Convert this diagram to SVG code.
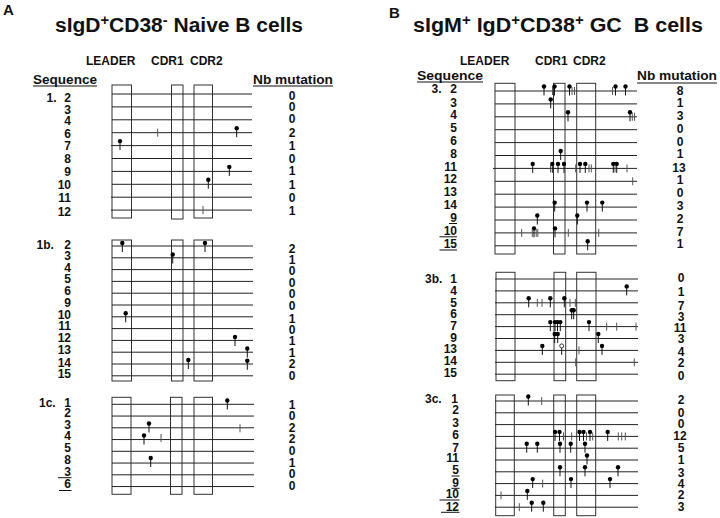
<svg xmlns="http://www.w3.org/2000/svg" xmlns:xlink="http://www.w3.org/1999/xlink" width="720" height="518" viewBox="0 0 720 518">
<style>
text{font-family:"Liberation Sans",Arial,sans-serif;font-weight:bold;fill:#111}
.ttl{font-size:20px}
.pl{font-size:15px}
.hd{font-size:12px}
.sq{font-size:13px}
.lb{font-size:12px;text-anchor:end}
.nb{font-size:12px;text-anchor:middle}
.box{fill:none;stroke:#333;stroke-width:1}
.row{stroke:#222;stroke-width:1}
.ul{stroke:#111;stroke-width:1}
.tk{stroke:#555;stroke-width:1}
</style>
<defs>
<g id="p"><line x1="0" y1="-4.5" x2="0" y2="4.5" stroke="#111" stroke-width="1"/><circle cx="0" cy="-4.5" r="2.2" fill="#000"/></g>
<g id="o"><line x1="0" y1="-2.5" x2="0" y2="4.5" stroke="#111" stroke-width="1"/><circle cx="0" cy="-4.5" r="2" fill="#fff" stroke="#111" stroke-width="0.8"/></g>
<line id="t" x1="0" y1="-4" x2="0" y2="4" stroke="#555" stroke-width="1"/>
</defs>
<rect width="720" height="518" fill="#fff"/>

<!-- Panel A headers -->
<g id="panelA-head">
<text class="pl" x="3" y="15">A</text>
<text class="ttl" x="55" y="31.5" textLength="248" lengthAdjust="spacingAndGlyphs">sIgD<tspan dy="-7" font-size="14">+</tspan><tspan dy="7">CD38</tspan><tspan dy="-7" font-size="14">-</tspan><tspan dy="7"> Naive B cells</tspan></text>
<text class="hd" x="86" y="65">LEADER</text>
<text class="hd" x="151" y="65">CDR1</text>
<text class="hd" x="190" y="65">CDR2</text>
<text class="sq" x="33" y="83.5" textLength="64" lengthAdjust="spacingAndGlyphs">Sequence</text>
<line class="ul" x1="33" y1="86" x2="97" y2="86"/>
<text class="sq" x="253" y="83.5" textLength="80" lengthAdjust="spacingAndGlyphs">Nb mutation</text>
<line class="ul" x1="253" y1="86" x2="333" y2="86"/>
</g>

<!-- Section 1 -->
<g id="sec-1">
<rect class="box" x="112" y="85" width="19.5" height="133"/>
<rect class="box" x="171.5" y="85" width="11.5" height="134"/>
<rect class="box" x="194" y="85" width="18.5" height="133"/>
<g class="row">
<line x1="112" y1="94" x2="252" y2="94"/><line x1="112" y1="106.9" x2="252" y2="106.9"/><line x1="112" y1="119.8" x2="252" y2="119.8"/><line x1="112" y1="132.7" x2="252" y2="132.7"/><line x1="111" y1="145.6" x2="252" y2="145.6"/><line x1="112" y1="158.5" x2="252" y2="158.5"/><line x1="112" y1="171.4" x2="252" y2="171.4"/><line x1="112" y1="184.3" x2="252" y2="184.3"/><line x1="111" y1="197.2" x2="252" y2="197.2"/><line x1="111" y1="210.1" x2="252" y2="210.1"/>
</g>
<use href="#t" x="157.7" y="132.7"/><use href="#p" x="236.7" y="132.7"/>
<use href="#p" x="120" y="145.6"/>
<use href="#p" x="229.3" y="171.4"/>
<use href="#p" x="208.3" y="184.3"/>
<use href="#t" x="203" y="210.1"/>
<text class="hd" x="46.5" y="102">1.</text>
<text class="lb" x="71" y="102">2</text><text class="lb" x="71" y="113.5">3</text><text class="lb" x="71" y="125.3">4</text><text class="lb" x="71" y="137.8">6</text><text class="lb" x="71" y="150.3">7</text><text class="lb" x="71" y="163.3">8</text><text class="lb" x="71" y="176">9</text><text class="lb" x="71" y="189">10</text><text class="lb" x="71" y="201.8">11</text><text class="lb" x="71" y="215.5">12</text>
<text class="nb" x="292" y="99.5">0</text><text class="nb" x="292" y="111">0</text><text class="nb" x="292" y="123">0</text><text class="nb" x="292" y="136.7">2</text><text class="nb" x="292" y="149.5">1</text><text class="nb" x="292" y="163.3">0</text><text class="nb" x="292" y="175.3">1</text><text class="nb" x="292" y="189.3">1</text><text class="nb" x="292" y="202.3">0</text><text class="nb" x="292" y="215">1</text>
</g>

<!-- Section 1b -->
<g id="sec-1b">
<rect class="box" x="112" y="240" width="19.5" height="141"/>
<rect class="box" x="171.5" y="240" width="11.5" height="141"/>
<rect class="box" x="194" y="240" width="18.5" height="141"/>
<g class="row">
<line x1="112" y1="246" x2="253" y2="246"/><line x1="112" y1="257.8" x2="253" y2="257.8"/><line x1="112" y1="269.6" x2="253" y2="269.6"/><line x1="112" y1="281.4" x2="253" y2="281.4"/><line x1="112" y1="293.2" x2="253" y2="293.2"/><line x1="112" y1="305" x2="253" y2="305"/><line x1="112" y1="316.8" x2="253" y2="316.8"/><line x1="112" y1="328.6" x2="253" y2="328.6"/><line x1="112" y1="340.4" x2="253" y2="340.4"/><line x1="112" y1="352.2" x2="253" y2="352.2"/><line x1="112" y1="364" x2="253" y2="364"/><line x1="112" y1="375.8" x2="253" y2="375.8"/>
</g>
<use href="#p" x="122.3" y="247.5"/><use href="#p" x="205" y="247.5"/>
<use href="#p" x="172.7" y="259"/>
<use href="#p" x="125.7" y="317.8"/>
<use href="#p" x="235" y="341.5"/>
<use href="#p" x="247.3" y="353"/>
<use href="#p" x="188.3" y="364.5"/><use href="#p" x="247.3" y="365.3"/>
<text class="hd" x="36.5" y="249.3">1b.</text>
<text class="lb" x="71" y="249.3">2</text><text class="lb" x="71" y="260.3">3</text><text class="lb" x="71" y="271.5">4</text><text class="lb" x="71" y="283.3">5</text><text class="lb" x="71" y="295">6</text><text class="lb" x="71" y="306.7">9</text><text class="lb" x="71" y="319">10</text><text class="lb" x="71" y="330.3">11</text><text class="lb" x="71" y="342.3">12</text><text class="lb" x="71" y="354">13</text><text class="lb" x="71" y="366.5">14</text><text class="lb" x="71" y="377.5">15</text>
<text class="nb" x="292" y="252.7">2</text><text class="nb" x="292" y="263.5">1</text><text class="nb" x="292" y="275">0</text><text class="nb" x="292" y="286.7">0</text><text class="nb" x="292" y="298.3">0</text><text class="nb" x="292" y="310">0</text><text class="nb" x="292" y="322.5">1</text><text class="nb" x="292" y="334">0</text><text class="nb" x="292" y="345.3">1</text><text class="nb" x="292" y="356.7">1</text><text class="nb" x="292" y="368.3">2</text><text class="nb" x="292" y="380">0</text>
</g>

<!-- Section 1c -->
<g id="sec-1c">
<rect class="box" x="112" y="397.3" width="19" height="97"/>
<rect class="box" x="170.5" y="397.3" width="11.5" height="97"/>
<rect class="box" x="194" y="397.3" width="18.5" height="97"/>
<g class="row">
<line x1="112" y1="404.3" x2="254" y2="404.3"/><line x1="112" y1="416.05" x2="254" y2="416.05"/><line x1="112" y1="427.8" x2="254" y2="427.8"/><line x1="112" y1="439.55" x2="254" y2="439.55"/><line x1="112" y1="451.3" x2="254" y2="451.3"/><line x1="112" y1="463.05" x2="254" y2="463.05"/><line x1="112" y1="474.8" x2="254" y2="474.8"/><line x1="112" y1="486.55" x2="254" y2="486.55"/>
</g>
<use href="#p" x="227.3" y="405"/>
<use href="#p" x="149" y="428"/><use href="#t" x="240" y="428.3"/>
<use href="#p" x="144" y="440"/><use href="#t" x="161" y="438"/>
<use href="#p" x="150.7" y="462.5"/>
<text class="hd" x="39" y="406.7">1c.</text>
<text class="lb" x="71" y="406.7">1</text><text class="lb" x="71" y="417.3">2</text><text class="lb" x="71" y="428.5">3</text><text class="lb" x="71" y="440">4</text><text class="lb" x="71" y="451.7">5</text><text class="lb" x="71" y="464.3">8</text><text class="lb" x="71" y="475.7">3</text><text class="lb" x="71" y="487.5">6</text>
<line class="ul" x1="58" y1="477.7" x2="71.5" y2="477.7"/><line class="ul" x1="59" y1="490.5" x2="71.5" y2="490.5"/>
<text class="nb" x="292" y="409.3">1</text><text class="nb" x="292" y="420">0</text><text class="nb" x="292" y="431.7">2</text><text class="nb" x="292" y="443.3">2</text><text class="nb" x="292" y="455">0</text><text class="nb" x="292" y="466.7">1</text><text class="nb" x="292" y="478.3">0</text><text class="nb" x="292" y="490">0</text>
</g>

<!-- Panel B headers -->
<g id="panelB-head">
<text class="pl" x="389" y="18.3">B</text>
<text class="ttl" x="413" y="31.5" textLength="290" lengthAdjust="spacingAndGlyphs">sIgM<tspan dy="-7" font-size="14">+</tspan><tspan dy="7"> IgD</tspan><tspan dy="-7" font-size="14">+</tspan><tspan dy="7">CD38</tspan><tspan dy="-7" font-size="14">+</tspan><tspan dy="7"> GC&#160; B cells</tspan></text>
<text class="hd" x="460" y="65">LEADER</text>
<text class="hd" x="535" y="65">CDR1</text>
<text class="hd" x="573" y="65">CDR2</text>
<text class="sq" x="417" y="79.5" textLength="66" lengthAdjust="spacingAndGlyphs">Sequence</text>
<line class="ul" x1="417" y1="82" x2="483" y2="82"/>
<text class="sq" x="637" y="80" textLength="80" lengthAdjust="spacingAndGlyphs">Nb mutation</text>
<line class="ul" x1="637" y1="83" x2="717" y2="83"/>
</g>

<!-- Section 3 -->
<g id="sec-3">
<rect class="box" x="495" y="83.3" width="20" height="170.7"/>
<rect class="box" x="553.5" y="83.3" width="11.5" height="170.7"/>
<rect class="box" x="576.7" y="83.3" width="19" height="170.7"/>
<g class="row">
<line x1="495" y1="91" x2="637" y2="91"/><line x1="495" y1="103.9" x2="637" y2="103.9"/><line x1="495" y1="116.8" x2="637" y2="116.8"/><line x1="495" y1="129.7" x2="637" y2="129.7"/><line x1="495" y1="142.6" x2="637" y2="142.6"/><line x1="495" y1="155.5" x2="637" y2="155.5"/><line x1="493" y1="168.4" x2="637" y2="168.4"/><line x1="495" y1="181.3" x2="637" y2="181.3"/><line x1="495" y1="194.2" x2="637" y2="194.2"/><line x1="495" y1="207.1" x2="637" y2="207.1"/><line x1="495" y1="220" x2="637" y2="220"/><line x1="495" y1="232.9" x2="637" y2="232.9"/><line x1="495" y1="245.8" x2="637" y2="245.8"/>
</g>
<g transform="translate(0,91)"><use href="#p" x="544"/><use href="#p" x="554.5"/><use href="#p" x="569.5"/><use href="#p" x="615.5"/><use href="#p" x="625.5"/><use href="#t" x="552.5"/><use href="#t" x="572"/><use href="#t" x="574.5"/><use href="#t" x="612.5"/></g>
<g transform="translate(0,103.9)"><use href="#p" x="550.7"/></g>
<g transform="translate(0,116.8)"><use href="#p" x="568"/><use href="#p" x="630"/><use href="#t" x="632.3"/><use href="#t" x="634.5"/></g>
<g transform="translate(0,155.5)"><use href="#p" x="560.7"/></g>
<g transform="translate(0,168.4)"><use href="#p" x="532.7"/><use href="#p" x="552.3"/><use href="#p" x="558"/><use href="#p" x="564"/><use href="#p" x="580"/><use href="#p" x="585.3"/><use href="#p" x="613.3"/><use href="#p" x="616.7"/><use href="#t" x="550.5"/><use href="#t" x="575.7"/><use href="#t" x="589"/><use href="#t" x="591.3"/><use href="#t" x="615"/><use href="#t" x="627"/></g>
<g transform="translate(0,181.3)"><use href="#t" x="632.7"/></g>
<g transform="translate(0,207.1)"><use href="#p" x="554.7"/><use href="#p" x="587"/><use href="#p" x="602.3"/></g>
<g transform="translate(0,220)"><use href="#p" x="537.3"/><use href="#p" x="577.3"/></g>
<g transform="translate(0,232.9)"><use href="#p" x="534"/><use href="#p" x="555"/><use href="#t" x="521.7"/><use href="#t" x="532.3"/><use href="#t" x="536.2"/><use href="#t" x="537.8"/><use href="#t" x="568.3"/><use href="#t" x="598.7"/></g>
<g transform="translate(0,245.8)"><use href="#p" x="587.7"/></g>
<text class="hd" x="431.5" y="93.3">3.</text>
<text class="lb" x="457" y="93.3">2</text><text class="lb" x="457" y="106.7">3</text><text class="lb" x="457" y="119.3">4</text><text class="lb" x="457" y="132.3">5</text><text class="lb" x="457" y="145">6</text><text class="lb" x="457" y="157.7">8</text><text class="lb" x="457" y="171">11</text><text class="lb" x="457" y="183.3">12</text><text class="lb" x="457" y="196">13</text><text class="lb" x="457" y="209">14</text><text class="lb" x="457" y="221.7">9</text><text class="lb" x="457" y="235">10</text><text class="lb" x="457" y="248.3">15</text>
<line class="ul" x1="449" y1="223.5" x2="457" y2="223.5"/><line class="ul" x1="439.5" y1="236.8" x2="457" y2="236.8"/><line class="ul" x1="439.5" y1="250" x2="457" y2="250"/>
<text class="nb" x="680" y="95">8</text><text class="nb" x="680" y="106.7">1</text><text class="nb" x="680" y="120">3</text><text class="nb" x="680" y="133.3">0</text><text class="nb" x="680" y="146">0</text><text class="nb" x="680" y="158.3">1</text><text class="nb" x="679" y="171.7">13</text><text class="nb" x="680" y="184">1</text><text class="nb" x="680" y="196.7">0</text><text class="nb" x="680" y="210">3</text><text class="nb" x="680" y="222.7">2</text><text class="nb" x="680" y="235.7">7</text><text class="nb" x="680" y="248.3">1</text>
</g>

<!-- Section 3b -->
<g id="sec-3b">
<rect class="box" x="496" y="272.3" width="19" height="108.4"/>
<rect class="box" x="554" y="272.3" width="11.7" height="108.4"/>
<rect class="box" x="576.7" y="272.3" width="19.3" height="108.4"/>
<g class="row">
<line x1="495" y1="279" x2="638" y2="279"/><line x1="495" y1="290.9" x2="638" y2="290.9"/><line x1="495" y1="302.8" x2="638" y2="302.8"/><line x1="495" y1="314.7" x2="638" y2="314.7"/><line x1="495" y1="326.6" x2="638" y2="326.6"/><line x1="495" y1="338.5" x2="638" y2="338.5"/><line x1="495" y1="350.4" x2="638" y2="350.4"/><line x1="495" y1="362.3" x2="638" y2="362.3"/><line x1="495" y1="374.2" x2="638" y2="374.2"/>
</g>
<g transform="translate(0,290.9)"><use href="#p" x="626.7"/></g>
<g transform="translate(0,302.8)"><use href="#p" x="528.7"/><use href="#p" x="550.3"/><use href="#p" x="564.3"/><use href="#t" x="537.3"/><use href="#t" x="542"/><use href="#t" x="570"/><use href="#t" x="575.3"/></g>
<g transform="translate(0,314.7)"><use href="#p" x="571.7"/><use href="#p" x="573.7"/></g>
<g transform="translate(0,326.6)"><use href="#p" x="550.3"/><use href="#p" x="555"/><use href="#p" x="557.5"/><use href="#p" x="560.3"/><use href="#p" x="589"/><use href="#t" x="606.7"/><use href="#t" x="616.7"/><use href="#t" x="636"/></g>
<g transform="translate(0,338.5)"><use href="#p" x="554.7"/><use href="#p" x="557.7"/><use href="#p" x="598.3"/></g>
<g transform="translate(0,350.4)"><use href="#p" x="542.3"/><use href="#o" x="561.7"/><use href="#p" x="602"/><use href="#t" x="579"/></g>
<g transform="translate(0,362.3)"><use href="#t" x="575.7"/><use href="#t" x="634.3"/></g>
<text class="hd" x="425" y="283.3">3b.</text>
<text class="lb" x="457" y="283.3">1</text><text class="lb" x="457" y="295">4</text><text class="lb" x="457" y="306.7">5</text><text class="lb" x="457" y="318.3">6</text><text class="lb" x="457" y="330">7</text><text class="lb" x="457" y="341.5">9</text><text class="lb" x="457" y="353.3">13</text><text class="lb" x="457" y="365">14</text><text class="lb" x="457" y="376.7">15</text>
<text class="nb" x="681" y="282">0</text><text class="nb" x="681" y="295.7">1</text><text class="nb" x="681" y="309.5">7</text><text class="nb" x="681" y="321">3</text><text class="nb" x="680" y="331.7">11</text><text class="nb" x="681" y="343.3">3</text><text class="nb" x="681" y="355.5">4</text><text class="nb" x="681" y="366.5">2</text><text class="nb" x="681" y="380">0</text>
</g>

<!-- Section 3c -->
<g id="sec-3c">
<rect class="box" x="495.7" y="395" width="18.6" height="120.7"/>
<rect class="box" x="553.7" y="395" width="11.6" height="120.7"/>
<rect class="box" x="576.7" y="395" width="19" height="120.7"/>
<g class="row">
<line x1="495" y1="401" x2="638" y2="401"/><line x1="495" y1="412.8" x2="638" y2="412.8"/><line x1="495" y1="424.6" x2="638" y2="424.6"/><line x1="495" y1="436.4" x2="638" y2="436.4"/><line x1="495" y1="448.2" x2="638" y2="448.2"/><line x1="495" y1="460" x2="638" y2="460"/><line x1="495" y1="471.8" x2="638" y2="471.8"/><line x1="495" y1="483.6" x2="638" y2="483.6"/><line x1="495" y1="495.4" x2="638" y2="495.4"/><line x1="495" y1="507.2" x2="638" y2="507.2"/>
</g>
<g transform="translate(0,401)"><use href="#p" x="528.3"/><use href="#t" x="541.7"/></g>
<g transform="translate(0,436.4)"><use href="#p" x="555"/><use href="#p" x="559.5"/><use href="#p" x="579.5"/><use href="#p" x="583.5"/><use href="#p" x="590"/><use href="#p" x="607.7"/><use href="#t" x="563.5"/><use href="#t" x="571.7"/><use href="#t" x="586.5"/><use href="#t" x="592.7"/><use href="#t" x="618.3"/><use href="#t" x="621.7"/><use href="#t" x="625.3"/></g>
<g transform="translate(0,448.2)"><use href="#p" x="526.7"/><use href="#p" x="537.3"/><use href="#p" x="560"/><use href="#p" x="570.7"/><use href="#p" x="585"/></g>
<g transform="translate(0,460)"><use href="#p" x="587"/></g>
<g transform="translate(0,471.8)"><use href="#p" x="560"/><use href="#p" x="585"/><use href="#p" x="618"/></g>
<g transform="translate(0,483.6)"><use href="#p" x="532.7"/><use href="#p" x="571"/><use href="#p" x="610"/><use href="#t" x="542.7"/></g>
<g transform="translate(0,495.4)"><use href="#t" x="501"/><use href="#p" x="527.3"/></g>
<g transform="translate(0,507.2)"><use href="#t" x="519.3"/><use href="#p" x="531.7"/><use href="#p" x="543.3"/></g>
<text class="hd" x="425" y="403.3">3c.</text>
<text class="lb" x="458" y="403.3">1</text><text class="lb" x="459" y="414.3">2</text><text class="lb" x="459" y="426.7">3</text><text class="lb" x="459" y="439.3">6</text><text class="lb" x="459" y="451.7">7</text><text class="lb" x="459" y="461.7">11</text><text class="lb" x="459" y="474.3">5</text><text class="lb" x="459" y="486.7">9</text><text class="lb" x="459" y="498.3">10</text><text class="lb" x="459" y="510.7">12</text>
<line class="ul" x1="451.5" y1="476" x2="459.5" y2="476"/><line class="ul" x1="451.5" y1="488.3" x2="459.5" y2="488.3"/><line class="ul" x1="439.5" y1="500" x2="459.5" y2="500"/><line class="ul" x1="441" y1="512.3" x2="459.5" y2="512.3"/>
<text class="nb" x="681" y="404">2</text><text class="nb" x="681" y="417.3">0</text><text class="nb" x="681" y="428.3">0</text><text class="nb" x="680" y="440">12</text><text class="nb" x="681" y="451.7">5</text><text class="nb" x="681" y="464">1</text><text class="nb" x="681" y="476.7">3</text><text class="nb" x="681" y="488.3">4</text><text class="nb" x="681" y="499.3">2</text><text class="nb" x="681" y="510.7">3</text>
</g>
</svg>
